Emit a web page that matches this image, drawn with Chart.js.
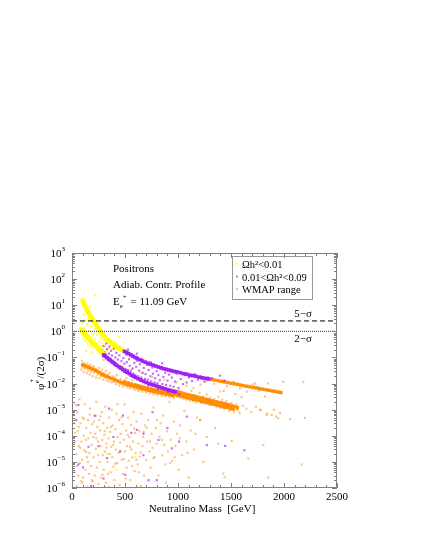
<!DOCTYPE html>
<html>
<head>
<meta charset="utf-8">
<script src="https://cdn.jsdelivr.net/npm/chart.js@4"></script>
<style>
  html, body { margin: 0; padding: 0; background: #fff; }
  #wrap { width: 425px; height: 550px; }
</style>
</head>
<body>
<div id="wrap"><canvas id="myChart" width="425" height="550"></canvas></div>
<script>
const ctx = document.getElementById('myChart').getContext('2d');

// series labels (legend)
const seriesLabels = ['\u03A9h\u00B2<0.01', '0.01<\u03A9h\u00B2<0.09', 'WMAP range'];

// axis ticks
const massTicks = [0, 500, 1000, 1500, 2000, 2500];
const decadeTicks = [1e-6, 1e-5, 1e-4, 1e-3, 1e-2, 1e-1, 1, 10, 100, 1000];

// sensitivity lines
const fiveSigma = 2.5;
const twoSigma = 1.0;

// yellow: Omega h^2 < 0.01  [mass GeV, phi/(2 sigma)]
const yellowBand = [
  [100,15],[108,12.5],[116,10.5],[124,9],[132,7.8],[140,6.6],[150,5.6],[160,4.8],[170,4.1],[180,3.5],
  [190,3.0],[200,2.6],[212,2.2],[224,1.85],[236,1.55],[248,1.3],[260,1.1],[272,0.95],[285,0.82],[298,0.7],
  [312,0.6],[326,0.52],[340,0.46],[355,0.41],[370,0.36],[385,0.32],[400,0.29],[418,0.26],[436,0.235],[455,0.215],[475,0.19],
  [90,1.15],[98,1.05],[106,0.95],[114,0.86],[122,0.78],[130,0.71],[140,0.64],[150,0.58],[160,0.52],[170,0.47],
  [180,0.42],[190,0.38],[200,0.35],[210,0.32],[220,0.29],[230,0.265],[240,0.24],[250,0.21],[260,0.19],[270,0.17],[280,0.155],[290,0.14]
];
const yellowScatter = [
  [103,2.1],[109,0.55],[113,4.4],[119,1.3],[126,0.42],[129,2.7],[137,0.85],[144,1.9],[147,0.33],[153,0.62],
  [158,3.1],[163,1.05],[171,0.27],[176,0.58],[183,1.6],[188,0.36],[194,0.78],[203,2.1],[207,0.25],[213,0.5],
  [219,1.25],[222,24],[229,0.33],[236,0.72],[244,0.2],[251,1.0],[257,0.4],[266,0.26],[274,0.58],[283,0.34],
  [292,0.2],[301,0.45],[312,0.27],[326,0.18],[338,0.36],[351,0.22],[367,0.3],[384,0.2],[402,0.4],[428,0.26],
  [446,0.6],[168,8.5],[186,0.16],[133,0.18],[330,2e-5],[600,1.5e-5],[420,5e-6]
];

// purple: 0.01 < Omega h^2 < 0.09
const purpleBand = [
  [495,0.17],[515,0.155],[535,0.14],[555,0.125],[575,0.112],[595,0.1],[615,0.092],[640,0.082],[665,0.073],[690,0.066],
  [715,0.06],[740,0.055],[765,0.051],[790,0.047],[815,0.043],[840,0.04],[865,0.037],[890,0.035],[915,0.033],[940,0.031],
  [965,0.029],[990,0.028],[1020,0.026],[1050,0.024],[1080,0.023],[1110,0.021],[1140,0.02],[1170,0.019],[1200,0.0175],
  [1230,0.0165],[1260,0.0158],[1290,0.015],
  [300,0.125],[315,0.11],[330,0.098],[345,0.087],[360,0.078],[375,0.07],[390,0.063],[405,0.056],[420,0.05],[440,0.044],
  [460,0.039],[480,0.034],[500,0.03],[520,0.027],[540,0.024],[560,0.021],[580,0.019],[600,0.017],[625,0.0152],[650,0.0136],
  [675,0.0122],[700,0.011],[725,0.01],[750,0.0092],[775,0.0086],[800,0.008],[825,0.0074],[850,0.0068],[875,0.0063],
  [900,0.0059],[925,0.0055],[950,0.0051],[975,0.0048]
];
const purpleScatter = [
  [283,0.19],[291,0.11],[297,0.27],[306,0.16],[318,0.13],[322,0.34],[331,0.21],[337,0.095],[349,0.14],[353,0.26],
  [361,0.088],[368,0.18],[377,0.12],[382,0.075],[396,0.22],[403,0.064],[409,0.1],[418,0.15],[426,0.052],[433,0.083],
  [447,0.12],[452,0.047],[458,0.2],[466,0.072],[478,0.041],[484,0.095],[493,0.058],[505,0.036],[511,0.13],[517,0.066],
  [529,0.033],[538,0.085],[544,0.048],[553,0.029],[566,0.11],[571,0.038],[579,0.024],[588,0.062],[597,0.021],[606,0.044],
  [613,0.075],[622,0.019],[634,0.031],[641,0.055],[653,0.017],[659,0.085],[668,0.026],[677,0.04],[689,0.015],[694,0.023],
  [708,0.052],[716,0.014],[723,0.033],[739,0.019],[746,0.012],[758,0.041],[764,0.024],[777,0.011],[785,0.016],[798,0.03],
  [806,0.0105],[815,0.021],[828,0.0135],[841,0.038],[853,0.0095],[862,0.018],[879,0.026],[887,0.0088],[901,0.013],[915,0.022],
  [926,0.0082],[942,0.017],[958,0.0075],[973,0.012],[988,0.024],[1004,0.0068],[1026,0.015],[1047,0.0095],[1066,0.021],
  [1081,0.011],[1103,0.017],[1132,0.0125],[1158,0.023],[1187,0.014],[1215,0.019],[1248,0.012],[1283,0.017],[1322,0.016],
  [1395,0.02],[1438,0.013],[612,0.14],[528,0.2],[742,0.066],[851,0.06],[720,0.0085],[810,0.0062],[905,0.0048],[1010,0.0039],
  [220,5.8e-4],[390,9e-5],[155,3.8e-5],[612,1.7e-4],[674,1.2e-4],[560,1.3e-4],[455,2.5e-5],[502,3.2e-6],[722,2e-6],
  [800,2e-6],[942,3.3e-5],[1010,6e-5],[1083,5.4e-4],[1272,4.4e-5],[104,6.2e-6],[298,2.3e-6],[674,1.8e-5],[816,6.9e-5],
  [1444,4.1e-5],[1626,2.8e-5],[60,1.5e-3],[40,4e-4],[350,1.1e-3],[480,6e-4],[250,4e-5],[330,1.4e-5],[900,2e-4],
  [60,8e-6],[180,1.2e-6],[760,8e-4]
];

// orange: WMAP range
const orangeBand = [
  [1320,0.0142],[1350,0.0135],[1380,0.0128],[1410,0.0121],[1440,0.0115],[1470,0.0109],[1500,0.0103],[1530,0.0098],
  [1560,0.0093],[1590,0.0088],[1620,0.0083],[1650,0.0079],[1680,0.0075],[1710,0.0071],[1740,0.0068],[1770,0.0064],
  [1800,0.0061],[1830,0.0058],[1860,0.0055],[1890,0.0052],[1920,0.005],[1950,0.0047],[1970,0.0045],
  [960,0.0052],[985,0.0049],[1010,0.0046],[1035,0.0043],[1060,0.004],[1085,0.0038],[1110,0.0036],[1135,0.0034],
  [1160,0.0032],[1185,0.003],[1210,0.0028],[1235,0.0027],[1260,0.0025],[1285,0.0024],[1310,0.0022],[1335,0.0021],
  [1360,0.002],[1385,0.0019],[1410,0.0018],[1435,0.0017],[1460,0.0016],[1485,0.0015],[1510,0.0014],[1535,0.0013],[1560,0.0012],
  [970,0.0038],[995,0.0036],[1020,0.0034],[1045,0.0032],[1070,0.003],[1095,0.0028],[1120,0.0027],[1145,0.0025],
  [1170,0.0024],[1195,0.0023],[1220,0.0021],[1245,0.002],[1270,0.0019],[1295,0.0018],[1320,0.0017],[1345,0.0016],
  [1370,0.0015],[1395,0.0014],[1420,0.0013],[1445,0.00125],[1470,0.0012],[1495,0.0011],[1520,0.00105],
  [100,0.052],[120,0.048],[140,0.044],[160,0.041],[180,0.038],[200,0.035],[220,0.032],[240,0.029],[260,0.026],
  [280,0.023],[300,0.021],[325,0.019],[350,0.0172],[375,0.0155],[400,0.014],[425,0.0127],[450,0.0116],[475,0.0106],
  [500,0.0098],[525,0.0091],[550,0.0085],[575,0.008],[600,0.0076],[625,0.0071],[650,0.0066],[675,0.0062],[700,0.0058],
  [725,0.0055],[750,0.0052],[775,0.0049],[800,0.0047],[825,0.0045],[850,0.0043],[875,0.0041],[900,0.0039],[925,0.0037],[950,0.0035],
  [500,0.0115],[530,0.0105],[560,0.0095],[590,0.0088],[620,0.0082],[650,0.0077],[680,0.0071],[710,0.0066],[740,0.0062],
  [770,0.0058],[800,0.0055],[830,0.0052],[860,0.0049],[890,0.0046],[920,0.0044],[950,0.0042]
];
const orangeScatter = [
  [86,0.034],[94,0.075],[101,0.041],[108,0.028],[117,0.062],[123,0.036],[131,0.049],[138,0.025],[146,0.058],[152,0.031],
  [159,0.046],[168,0.022],[174,0.053],[181,0.029],[189,0.04],[197,0.019],[204,0.047],[211,0.026],[219,0.038],[228,0.017],
  [236,0.033],[243,0.022],[252,0.04],[259,0.016],[268,0.027],[277,0.019],[286,0.034],[293,0.014],[302,0.025],[311,0.017],
  [319,0.031],[328,0.013],[339,0.022],[347,0.012],[356,0.026],[364,0.015],[373,0.011],[386,0.019],[394,0.0115],[407,0.017],
  [415,0.0095],[423,0.021],[437,0.012],[444,0.0085],[459,0.015],[468,0.0098],[481,0.0078],[489,0.013],[503,0.0085],[512,0.016],
  [524,0.0072],[536,0.011],[548,0.0065],[557,0.0092],[569,0.013],[583,0.0068],[592,0.0058],[604,0.0098],[617,0.0062],[628,0.0052],
  [639,0.0085],[651,0.0058],[663,0.0048],[672,0.0078],[686,0.0055],[698,0.0045],[707,0.0072],[719,0.0051],[733,0.0042],[745,0.0066],
  [756,0.0048],[769,0.0039],[781,0.0061],[794,0.0044],[806,0.0036],[819,0.0058],[831,0.0041],[846,0.0034],[858,0.0053],[867,0.0038],
  [883,0.0032],[896,0.0049],[908,0.0036],[921,0.003],[934,0.0045],[947,0.0033],[962,0.0028],[978,0.0042],[993,0.0031],[1008,0.0055],
  [1024,0.0029],[1037,0.0048],[1053,0.0026],[1068,0.0044],[1082,0.0024],[1097,0.0039],[1113,0.0022],[1126,0.0052],[1141,0.0021],
  [1156,0.0036],[1172,0.0019],[1188,0.0033],[1203,0.0044],[1219,0.0018],[1237,0.0031],[1256,0.0017],[1271,0.0038],[1289,0.0016],
  [1305,0.0028],[1322,0.0015],[1341,0.0026],[1362,0.0013],[1379,0.0031],[1398,0.0012],[1418,0.0024],[1437,0.00105],[1456,0.0021],
  [1482,0.0009],[1503,0.0018],[1528,0.0008],[1552,0.0016],[1581,0.00075],[1611,0.0014],[1645,0.0011],[1690,0.0008],[1735,0.0013],
  [1780,0.00095],[1840,0.0007],[1905,0.001],[1925,0.00055],
  [1212,0.009],[1265,0.012],[1340,0.0098],[1397,0.0049],[1461,0.0079],[1523,0.012],[1586,0.0066],[1648,0.0049],[1702,0.0092],
  [1727,0.01],[1765,0.0054],[1821,0.0032],[1852,0.0102],[1993,0.0117],[2182,0.0117],[1884,6.3e-4],[1837,6.3e-4],[1774,0.001],
  [1209,4e-4],[1540,0.004],[1600,0.003],[1430,0.0052],[1145,0.0068],[1080,0.0082],[985,0.011],[870,0.014],[760,0.018],
  [655,0.025],[560,0.033],[470,0.045],[380,0.062],[300,0.08],
  [20,3e-4],[25,4e-6],[30,6e-5],[35,1.5e-3],[40,2e-5],[45,1.2e-6],[50,8e-4],[55,1.5e-4],[60,3e-6],[65,4e-5],
  [70,2.5e-3],[75,9e-6],[80,3e-4],[85,1.8e-6],[90,6e-5],[95,1.2e-5],[100,5e-4],[105,2.5e-6],[110,1e-4],[115,2.8e-5],
  [120,1.6e-3],[125,5e-6],[130,7e-5],[135,2e-4],[140,1.5e-5],[145,1.1e-6],[150,4e-4],[155,8e-5],[160,3.5e-6],[165,2.2e-5],
  [170,1.1e-3],[175,1.3e-4],[180,7e-6],[185,4.5e-5],[190,2.8e-4],[195,1.8e-6],[200,9e-5],[205,1.5e-5],[210,6e-4],[215,3e-6],
  [220,1.2e-4],[225,3.2e-5],[230,2e-3],[235,6e-6],[240,2.2e-4],[245,6e-5],[250,1.4e-6],[255,4e-4],[260,1e-5],[265,1.6e-4],
  [270,4e-5],[275,2.5e-6],[280,8e-4],[285,7e-5],[290,1.8e-5],[295,3e-4],[300,5e-6],[305,1.1e-4],[310,2.5e-5],[315,1.3e-3],
  [320,1.6e-6],[325,5e-5],[330,2e-4],[335,1e-5],[340,3.5e-6],[345,8e-5],[350,5e-4],[355,2e-5],[360,1.4e-4],[365,4e-6],
  [370,3.8e-5],[375,1e-3],[380,1.5e-5],[385,2.5e-4],[390,6.5e-6],[395,6e-5],[400,2e-6],[410,1.8e-4],[415,3e-5],[420,7e-4],
  [425,9e-6],[430,9e-5],[440,2.2e-5],[445,4e-4],[450,1.3e-6],[455,5.5e-5],[460,1.2e-4],[470,1.2e-5],[475,2.8e-4],[480,3.5e-6],
  [490,7e-5],[495,1.6e-3],[500,2.5e-5],[510,1.6e-4],[515,6e-6],[520,4e-5],[530,5e-4],[535,1.1e-5],[540,9e-5],[550,2e-6],
  [555,2.6e-4],[560,3e-5],[570,1.5e-5],[575,6e-5],[580,8e-4],[590,4.5e-6],[595,1.3e-4],[600,2.2e-5],[610,3.5e-4],[620,8e-6],
  [625,5e-5],[635,1.5e-4],[640,1.6e-5],[650,1.2e-6],[655,7e-4],[665,4e-5],[670,9e-5],[680,3e-6],[690,2.5e-4],[700,1.2e-5],
  [710,6e-5],[720,4e-4],[730,2.5e-5],[740,6e-6],[750,1.2e-4],[760,3.5e-5],[770,1.2e-3],[780,1.5e-5],[790,2e-4],[800,5e-5],
  [815,3e-6],[825,9e-5],[835,3e-4],[850,1.8e-5],[860,6e-4],[870,4.5e-5],[880,8e-6],[895,1.5e-4],[905,2.5e-5],[920,2e-3],
  [930,7e-5],[945,1.1e-5],[960,3.5e-4],[975,4e-5],[990,1.2e-4],[1005,5e-6],[1020,2.5e-4],[1040,1.8e-5],[1060,9e-4],
  [1080,6e-5],[1100,2.5e-6],[1120,1.6e-4],[1150,3e-5],[1180,5e-4],[1210,4e-4],[1240,1e-5],[1272,9e-5],[1300,1.5e-3],
  [1350,2e-4],[1380,5e-5],[1427,3.6e-6],[1440,2.6e-6],[1507,6.3e-5],[1560,1e-3],[1664,1.35e-5],[1805,4.4e-5],[1852,2.5e-6],
  [1946,4.7e-4],[1962,7.4e-4],[2057,4.4e-4],[2167,7.9e-6],[2198,4.8e-4],
  [12,5e-5],[28,1.3e-4],[47,7e-6],[63,2.2e-4],[78,3.5e-5],[97,1.6e-6],[113,4.5e-4],[132,2.4e-5],[151,1e-5],[167,6.5e-4],
  [188,2e-6],[206,3.5e-4],[228,8e-5],[247,1.8e-5],[268,5.5e-4],[287,3.2e-6],[309,1.5e-4],[327,3.5e-5],[348,1.1e-6],[367,2.2e-4],
  [389,4.5e-5],[407,8.5e-6],[428,1.6e-3],[451,2.6e-5],[468,5e-4],[489,1.3e-5],[507,2.3e-6],[526,1.1e-4],[548,3.8e-5],[566,7e-6],
  [587,1.9e-4],[607,1.2e-5],[631,4e-6],[648,2.3e-5],[676,1.4e-4],[703,2e-4],[735,6e-5],[768,1.4e-5],[802,4e-4],[847,7e-5],
  [888,1.6e-6],[925,9e-6],[968,1.5e-5],[1015,8e-5],[1090,2.2e-5],[1165,1.2e-4]
];

const YELLOW = 'rgb(255,255,0)';
const PURPLE = 'rgb(160,32,240)';
const ORANGE = 'rgb(255,140,0)';
const FONT = '"Liberation Serif", "DejaVu Serif", serif';

function pts(arr) {
  return arr.map(p => ({ x: p[0], y: p[1] }));
}

function dots(data, color, r) {
  return {
    type: 'scatter',
    data: pts(data),
    backgroundColor: color,
    borderWidth: 0,
    pointStyle: 'rect',
    pointRadius: r
  };
}

function hline(level, dash, color) {
  return {
    type: 'line',
    data: [{ x: 0, y: level }, { x: 2500, y: level }],
    borderColor: color,
    borderWidth: 1,
    borderDash: dash,
    pointRadius: 0,
    fill: false
  };
}

// frame, inward ticks, texts and legend
const decor = {
  id: 'decor',
  afterDraw(chart) {
    const c = chart.ctx;
    const a = chart.chartArea;
    const x = chart.scales.x, y = chart.scales.y;
    c.save();
    c.strokeStyle = '#808080';
    c.lineWidth = 1;
    c.strokeRect(Math.round(a.left) + 0.5, Math.round(a.top) + 0.5, Math.round(a.width) - 1, Math.round(a.height) - 1);
    c.beginPath();
    for (let m = 0; m <= 2500; m += 100) {
      const px = Math.round(x.getPixelForValue(m)) + 0.5;
      const len = m % 500 === 0 ? 5 : 3;
      c.moveTo(px, a.bottom); c.lineTo(px, a.bottom - len);
      c.moveTo(px, a.top); c.lineTo(px, a.top + len);
    }
    for (let e = -6; e < 3; e++) {
      for (let k = 1; k < 10; k++) {
        const py = Math.round(y.getPixelForValue(k * Math.pow(10, e))) + 0.5;
        const len = k === 1 ? 5 : 3;
        c.moveTo(a.left, py); c.lineTo(a.left + len, py);
        c.moveTo(a.right, py); c.lineTo(a.right - len, py);
      }
    }
    c.stroke();

    c.fillStyle = '#000';
    c.textBaseline = 'alphabetic';
    // y tick labels 10^n
    y.ticks.forEach(t => {
      const py = y.getPixelForValue(t.value);
      const e = Math.round(Math.log10(t.value));
      const exp = e < 0 ? '\u2212' + (-e) : String(e);
      c.textAlign = 'right';
      c.font = '7px ' + FONT;
      const ew = c.measureText(exp).width;
      c.fillText(exp, 65, py - 2);
      c.font = '11px ' + FONT;
      c.fillText('10', 65 - ew, py + 4);
    });

    // x title
    c.textAlign = 'center';
    c.font = '11px ' + FONT;
    c.fillText('Neutralino Mass  [GeV]', 202, 512);

    // y title
    c.save();
    c.translate(44, 390);
    c.rotate(-Math.PI / 2);
    c.textAlign = 'left';
    c.font = '11px ' + FONT;
    c.fillText('\u03C6', 0, 0);
    let w = c.measureText('\u03C6').width;
    c.font = '7px ' + FONT;
    c.fillText('e', w + 0.5, -5);
    const we = c.measureText('e').width;
    c.fillText('+', w + 1, -10);
    w += we + 2;
    c.font = '11px ' + FONT;
    c.fillText('/(2\u03C3)', w, 0);
    c.restore();

    // annotations
    c.textAlign = 'left';
    c.font = '11px ' + FONT;
    c.fillText('Positrons', 113, 272);
    c.fillText('Adiab. Contr. Profile', 113, 288);
    c.fillText('E', 113, 305);
    const wE = c.measureText('E').width;
    c.font = '7px ' + FONT;
    c.fillText('e', 113 + wE, 308);
    c.fillText('+', 113 + wE + 3, 299);
    c.font = '11px ' + FONT;
    c.fillText(' = 11.09 GeV', 113 + wE + 8, 305);

    // sigma labels
    c.textAlign = 'right';
    const p5 = y.getPixelForValue(fiveSigma);
    const p2 = y.getPixelForValue(twoSigma);
    c.fillText('5\u2212\u03C3', 312, p5 - 4);
    c.fillText('2\u2212\u03C3', 312, p2 + 11);

    // legend box
    c.strokeStyle = '#999';
    c.strokeRect(232.5, 256.5, 80, 43);
    const colors = ['rgba(255,255,0,0.8)', 'rgba(160,32,240,0.6)', 'rgba(255,140,0,0.5)'];
    c.textAlign = 'left';
    seriesLabels.forEach((lab, i) => {
      const ly = 264 + i * 12.5;
      c.fillStyle = colors[i];
      c.fillRect(236, ly - 1, 2, 2);
      c.fillStyle = '#000';
      c.font = '10.5px ' + FONT;
      c.fillText(lab, 242, ly + 4);
    });
    c.restore();
  }
};

const myChart = new Chart(ctx, {
  type: 'scatter',
  data: {
    datasets: [
      hline(fiveSigma, [5, 3], '#000'),
      hline(twoSigma, [1, 1], '#333'),
      dots(purpleBand, PURPLE, 2.6),
      dots(yellowBand, YELLOW, 3),
      dots(purpleScatter, 'rgba(160,32,240,0.65)', 1.5),
      dots(yellowScatter, 'rgba(255,255,0,0.8)', 1.5),
      dots(orangeBand, ORANGE, 2.4),
      dots(orangeScatter, 'rgba(255,140,0,0.5)', 1.5)
    ]
  },
  options: {
    responsive: false,
    devicePixelRatio: 1,
    animation: false,
    layout: { padding: { left: 0, top: 253, right: 88, bottom: 0 } },
    plugins: { legend: { display: false }, tooltip: { enabled: false } },
    scales: {
      x: {
        type: 'linear',
        min: 0,
        max: 2500,
        afterBuildTicks: s => { s.ticks = massTicks.map(v => ({ value: v })); },
        afterFit: s => { s.height = 62; },
        grid: { display: false, drawTicks: false },
        border: { display: false },
        ticks: { color: '#000', font: { family: FONT, size: 11 }, padding: 3, maxRotation: 0, callback: v => String(v) }
      },
      y: {
        type: 'logarithmic',
        min: 1e-6,
        max: 1e3,
        afterBuildTicks: s => { s.ticks = decadeTicks.map(v => ({ value: v })); },
        afterFit: s => { s.width = 72; },
        grid: { display: false, drawTicks: false },
        border: { display: false },
        ticks: { display: false }
      }
    }
  },
  plugins: [decor]
});
</script>
</body>
</html>
